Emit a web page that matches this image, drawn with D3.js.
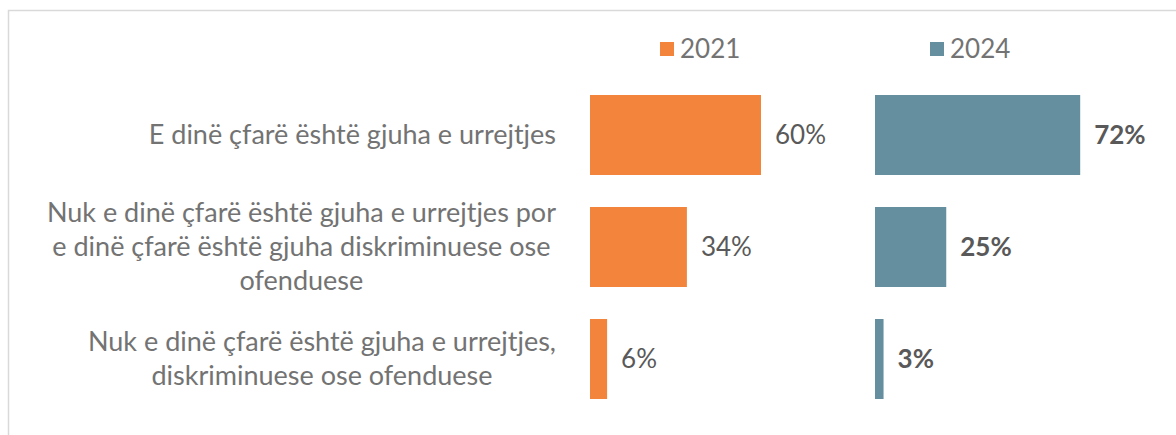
<!DOCTYPE html>
<html>
<head>
<meta charset="utf-8">
<script src="https://cdn.jsdelivr.net/npm/d3@7"></script>
<style>
  body { margin: 0; background: #fff; }
  text { font-family: Lato, "Open Sans", sans-serif; }
</style>
</head>
<body>
<div id="chart"></div>
<script>
var categories = [
    "E dinë çfarë është gjuha e urrejtjes",
    "Nuk e dinë çfarë është gjuha e urrejtjes por e dinë çfarë është gjuha diskriminuese ose ofenduese",
    "Nuk e dinë çfarë është gjuha e urrejtjes, diskriminuese ose ofenduese"
];
// wrapped lines as shown in the picture
var categoryLines = [
    ["E dinë çfarë është gjuha e urrejtjes"],
    ["Nuk e dinë çfarë është gjuha e urrejtjes por", "e dinë çfarë është gjuha diskriminuese ose", "ofenduese"],
    ["Nuk e dinë çfarë është gjuha e urrejtjes,", "diskriminuese ose ofenduese"]
];
var years = ["2021", "2024"];
var values2021 = [60, 34, 6];
var values2024 = [72, 25, 3];

var colors = { "2021": "#F2843C", "2024": "#658F9F" };

var width = 1176, height = 435;

var svg = d3.select("#chart").append("svg")
    .attr("width", width)
    .attr("height", height);

// chart border (runs off the right and bottom edge)
svg.append("rect")
    .attr("x", 8.5).attr("y", 10.5)
    .attr("width", 1200).attr("height", 500)
    .attr("fill", "none")
    .attr("stroke", "#d9d9d9")
    .attr("stroke-width", 1.5);

var y = d3.scaleBand()
    .domain(categories)
    .range([79, 415])
    .paddingInner(0.2857)
    .paddingOuter(0.1429);

var panels = [
    { year: "2021", values: values2021, x: d3.scaleLinear().domain([0, 100]).range([590, 875]), bold: false },
    { year: "2024", values: values2024, x: d3.scaleLinear().domain([0, 100]).range([875, 1160]), bold: true }
];

panels.forEach(function(p) {
    var g = svg.append("g");
    g.selectAll("rect")
        .data(p.values)
        .enter().append("rect")
        .attr("x", p.x(0))
        .attr("y", function(d, i) { return y(categories[i]); })
        .attr("width", function(d) { return p.x(d) - p.x(0); })
        .attr("height", y.bandwidth())
        .attr("fill", colors[p.year]);

    g.selectAll("text")
        .data(p.values)
        .enter().append("text")
        .attr("x", function(d) { return p.x(d) + 14; })
        .attr("y", function(d, i) { return y(categories[i]) + y.bandwidth() / 2; })
        .attr("dy", "0.35em")
        .attr("font-size", 26)
        .attr("font-weight", p.bold ? "bold" : "normal")
        .attr("fill", "#595959")
        .text(function(d) { return d + "%"; });
});

// category labels: block right-aligned, lines centred inside the block
var labelRight = 556, lineHeight = 34;
categories.forEach(function(c, i) {
    var lines = categoryLines[i];
    var cy = y(c) + y.bandwidth() / 2;
    var t = svg.append("text")
        .attr("font-size", 27)
        .attr("fill", "#737373")
        .attr("text-anchor", "middle");
    var spans = lines.map(function(l, k) {
        return t.append("tspan")
            .attr("y", cy + (k - (lines.length - 1) / 2) * lineHeight)
            .attr("dy", "0.35em")
            .text(l);
    });
    var maxW = d3.max(spans, function(s) { return s.node().getComputedTextLength(); });
    spans.forEach(function(s) { s.attr("x", labelRight - maxW / 2); });
});

// legend
var legendX = { "2021": 660, "2024": 930 };
years.forEach(function(yr) {
    var lg = svg.append("g").attr("transform", "translate(" + legendX[yr] + ",49)");
    lg.append("rect")
        .attr("x", 0).attr("y", -7)
        .attr("width", 14).attr("height", 14)
        .attr("fill", colors[yr]);
    lg.append("text")
        .attr("x", 20)
        .attr("dy", "0.35em")
        .attr("font-size", 26)
        .attr("fill", "#737373")
        .text(yr);
});
</script>
</body>
</html>
